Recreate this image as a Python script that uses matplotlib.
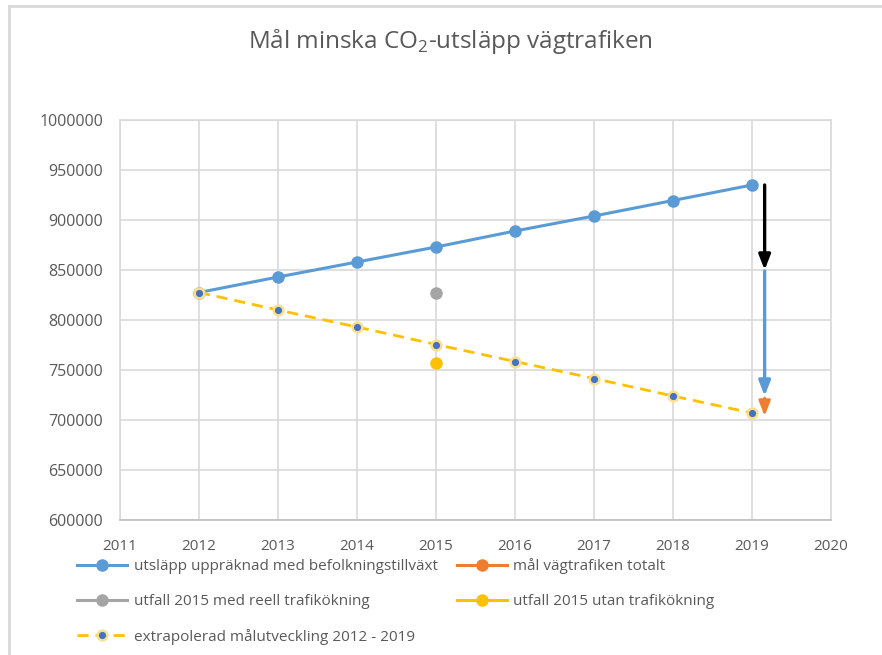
import matplotlib
matplotlib.use("Agg")
import matplotlib.pyplot as plt
from matplotlib.lines import Line2D
from matplotlib.ticker import StrMethodFormatter

plt.rcParams["font.family"] = ["Open Sans", "DejaVu Sans"]
plt.rcParams["mathtext.fontset"] = "custom"
plt.rcParams["mathtext.rm"] = "Open Sans"

# data
years = [2012, 2013, 2014, 2015, 2016, 2017, 2018, 2019]
upprakning = [827500, 843000, 858000, 873000, 889000, 904000, 919500, 935000]
malutveckling = [827500, 810000, 793000, 775500, 758500, 741500, 724000, 707000]
utfall_year = [2015]
utfall_reell = [827500]
utfall_utan = [757000]

# arrows drawn by hand in the original (x, y_start, y_end)
arrow_x = 2019.16
black_arrow = (935000, 850000)
blue_arrow = (849000, 724000)
orange_arrow = (722000, 704000)

labels = [
    "utsläpp uppräknad med befolkningstillväxt",
    "mål vägtrafiken totalt",
    "utfall 2015 med reell trafikökning",
    "utfall 2015 utan trafikökning",
    "extrapolerad målutveckling 2012 - 2019",
]

BLUE = "#5B9BD5"
ORANGE = "#ED7D31"
GRAY = "#A5A5A5"
YELLOW = "#FFC000"
DARKBLUE = "#4472C4"
GRID = "#D9D9D9"
TXT = "#595959"
DASH = (0, (4, 2.5))

fig = plt.figure(figsize=(8.82, 6.55), dpi=100)
ax = fig.add_axes([120 / 882, 1 - 520 / 655, 711 / 882, 400 / 655])

ax.plot(years, upprakning, color=BLUE, lw=2.2, marker="o", ms=8, zorder=4)
ax.plot(years, malutveckling, color=YELLOW, lw=2, ls=DASH,
        marker="o", ms=7, mfc=DARKBLUE, mec="#FFE08A", mew=1.8, zorder=4)
ax.plot(utfall_year, utfall_reell, color=GRAY, marker="o", ms=8, ls="none", zorder=4)
ax.plot(utfall_year, utfall_utan, color=YELLOW, marker="o", ms=8, ls="none", zorder=4)

def arrow(y0, y1, color, lw, hw, hl):
    ax.annotate("", xy=(arrow_x, y1), xytext=(arrow_x, y0),
                arrowprops=dict(arrowstyle=f"-|>,head_width={hw},head_length={hl}",
                                color=color, lw=lw, shrinkA=0, shrinkB=0),
                zorder=5)

arrow(*black_arrow, "black", 2.4, 0.35, 0.9)
arrow(*blue_arrow, BLUE, 2.4, 0.35, 0.9)
arrow(*orange_arrow, ORANGE, 2.0, 0.35, 0.9)

ax.set_xlim(2011, 2020)
ax.set_ylim(600000, 1000000)
ax.set_xticks(range(2011, 2021))
ax.set_yticks(range(600000, 1000001, 50000))
ax.yaxis.set_major_formatter(StrMethodFormatter("{x:.0f}"))
ax.grid(True, color=GRID, lw=1.2)
ax.set_axisbelow(True)
for side in ["top", "right", "left"]:
    ax.spines[side].set_color(GRID)
    ax.spines[side].set_linewidth(1.2)
ax.spines["bottom"].set_color("#BFBFBF")
ax.spines["bottom"].set_linewidth(1.2)
ax.tick_params(length=0, colors=TXT, labelsize=11)
ax.tick_params(axis="y", pad=12, labelsize=11.5)
ax.tick_params(axis="x", pad=14)

fig.text(450 / 882, 1 - 42 / 655, "Mål minska CO$_2$-utsläpp vägtrafiken",
         ha="center", va="center", fontsize=17.5, color=TXT)

# legend, column-wise order so the last entry sits alone in row 3
h_blue = Line2D([], [], color=BLUE, lw=2.2, marker="o", ms=8)
h_orange = Line2D([], [], color=ORANGE, lw=2.2, marker="o", ms=8)
h_gray = Line2D([], [], color=GRAY, lw=2.2, marker="o", ms=8)
h_yellow = Line2D([], [], color=YELLOW, lw=2.2, marker="o", ms=8)
h_extra = Line2D([], [], color=YELLOW, lw=2, ls=DASH, marker="o", ms=7,
                 mfc=DARKBLUE, mec="#FFE08A", mew=1.8)
fig.legend([h_blue, h_gray, h_extra, h_orange, h_yellow],
           [labels[0], labels[2], labels[4], labels[1], labels[3]],
           ncol=2, loc="upper left", bbox_to_anchor=(77 / 882, 1 - 558 / 655),
           frameon=False, fontsize=11, labelcolor=TXT, handlelength=3.3,
           handletextpad=0.4, labelspacing=1.3, columnspacing=1.25,
           borderpad=0, borderaxespad=0)

# chart frame (cropped: only left and top edges visible)
fig.add_artist(Line2D([9 / 882, 9 / 882], [0, 1 - 6 / 655], color=GRID, lw=2,
                      transform=fig.transFigure))
fig.add_artist(Line2D([9 / 882, 1], [1 - 6 / 655, 1 - 6 / 655], color=GRID, lw=2,
                      transform=fig.transFigure))

fig.savefig("out.png", dpi=100, facecolor="white")
